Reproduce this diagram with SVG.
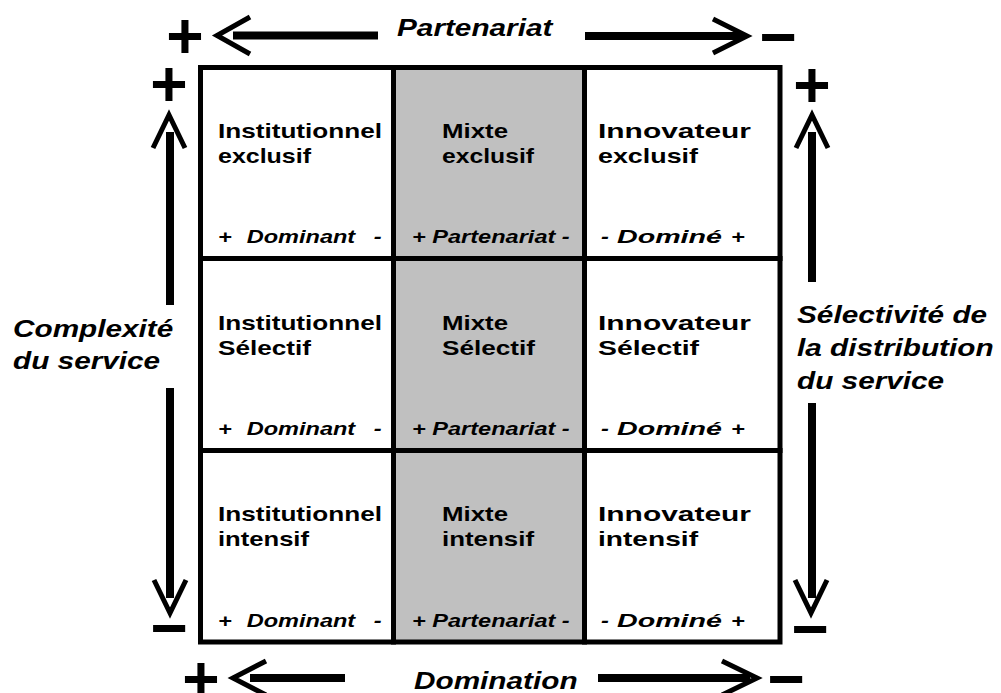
<svg xmlns="http://www.w3.org/2000/svg" width="1001" height="693" viewBox="0 0 1001 693">
<style>
.cell{fill:#ffffff;stroke:#000;stroke-width:5}
.mid{fill:#c0c0c0;stroke:#000;stroke-width:5}
.t{font-family:"Liberation Sans",Arial,sans-serif;font-weight:bold;font-size:21px;fill:#000}
.l{font-family:"Liberation Sans",Arial,sans-serif;font-weight:bold;font-style:italic;font-size:19px;fill:#000}
.ax{font-family:"Liberation Sans",Arial,sans-serif;font-weight:bold;font-style:italic;font-size:24px;fill:#000}
.sg{font-family:"Liberation Sans",Arial,sans-serif;font-weight:bold;font-size:64px;fill:#000;text-anchor:middle}
.sh{stroke:#000;stroke-width:8;fill:none}
.hd{stroke:#000;stroke-width:5;fill:none;stroke-linejoin:miter}
</style>
<rect width="1001" height="693" fill="#fff"/>

<g id="c11"><rect class="cell" x="200.5" y="67.5" width="193" height="191"/>
<text class="t" x="218" y="138" textLength="164" lengthAdjust="spacingAndGlyphs">Institutionnel</text>
<text class="t" x="218" y="163" textLength="93" lengthAdjust="spacingAndGlyphs">exclusif</text>
<text class="l" transform="translate(218,243) scale(1.24,1)">+<tspan dx="12">Dominant</tspan><tspan dx="15">-</tspan></text></g>
<g id="c12"><rect class="mid" x="393.5" y="67.5" width="191" height="191"/>
<text class="t" x="442" y="138" textLength="66" lengthAdjust="spacingAndGlyphs">Mixte</text>
<text class="t" x="442" y="163" textLength="92" lengthAdjust="spacingAndGlyphs">exclusif</text>
<text class="l" transform="translate(412,243) scale(1.24,1)">+ Partenariat -</text></g>
<g id="c13"><rect class="cell" x="584.5" y="67.5" width="195.5" height="191"/>
<text class="t" x="598" y="138" textLength="153" lengthAdjust="spacingAndGlyphs">Innovateur</text>
<text class="t" x="598" y="163" textLength="100" lengthAdjust="spacingAndGlyphs">exclusif</text>
<text class="l" transform="translate(601,243) scale(1.24,1)">-</text>
<text class="l" x="617" y="243" textLength="105" lengthAdjust="spacingAndGlyphs">Dominé</text>
<text class="l" transform="translate(731,243) scale(1.24,1)">+</text></g>

<g id="c21"><rect class="cell" x="200.5" y="258.5" width="193" height="192"/>
<text class="t" x="218" y="329.5" textLength="164" lengthAdjust="spacingAndGlyphs">Institutionnel</text>
<text class="t" x="218" y="354.5" textLength="93" lengthAdjust="spacingAndGlyphs">Sélectif</text>
<text class="l" transform="translate(218,435) scale(1.24,1)">+<tspan dx="12">Dominant</tspan><tspan dx="15">-</tspan></text></g>
<g id="c22"><rect class="mid" x="393.5" y="258.5" width="191" height="192"/>
<text class="t" x="442" y="329.5" textLength="66" lengthAdjust="spacingAndGlyphs">Mixte</text>
<text class="t" x="442" y="354.5" textLength="93" lengthAdjust="spacingAndGlyphs">Sélectif</text>
<text class="l" transform="translate(412,435) scale(1.24,1)">+ Partenariat -</text></g>
<g id="c23"><rect class="cell" x="584.5" y="258.5" width="195.5" height="192"/>
<text class="t" x="598" y="329.5" textLength="153" lengthAdjust="spacingAndGlyphs">Innovateur</text>
<text class="t" x="598" y="354.5" textLength="101" lengthAdjust="spacingAndGlyphs">Sélectif</text>
<text class="l" transform="translate(601,435) scale(1.24,1)">-</text>
<text class="l" x="617" y="435" textLength="105" lengthAdjust="spacingAndGlyphs">Dominé</text>
<text class="l" transform="translate(731,435) scale(1.24,1)">+</text></g>

<g id="c31"><rect class="cell" x="200.5" y="450.5" width="193" height="191.5"/>
<text class="t" x="218" y="521" textLength="164" lengthAdjust="spacingAndGlyphs">Institutionnel</text>
<text class="t" x="218" y="546" textLength="91" lengthAdjust="spacingAndGlyphs">intensif</text>
<text class="l" transform="translate(218,627) scale(1.24,1)">+<tspan dx="12">Dominant</tspan><tspan dx="15">-</tspan></text></g>
<g id="c32"><rect class="mid" x="393.5" y="450.5" width="191" height="191.5"/>
<text class="t" x="442" y="521" textLength="66" lengthAdjust="spacingAndGlyphs">Mixte</text>
<text class="t" x="442" y="546" textLength="92" lengthAdjust="spacingAndGlyphs">intensif</text>
<text class="l" transform="translate(412,627) scale(1.24,1)">+ Partenariat -</text></g>
<g id="c33"><rect class="cell" x="584.5" y="450.5" width="195.5" height="191.5"/>
<text class="t" x="598" y="521" textLength="153" lengthAdjust="spacingAndGlyphs">Innovateur</text>
<text class="t" x="598" y="546" textLength="100" lengthAdjust="spacingAndGlyphs">intensif</text>
<text class="l" transform="translate(601,627) scale(1.24,1)">-</text>
<text class="l" x="617" y="627" textLength="105" lengthAdjust="spacingAndGlyphs">Dominé</text>
<text class="l" transform="translate(731,627) scale(1.24,1)">+</text></g>

<g id="connectors">
<line class="sh" x1="233" y1="35.5" x2="378" y2="35.5"/>
<polyline class="hd" points="250,17 217,35.5 250,54"/>
<line class="sh" x1="585" y1="36" x2="742" y2="36"/>
<polyline class="hd" points="713,19 747,36 713,53"/>
<line class="sh" x1="250" y1="678" x2="345" y2="678"/>
<polyline class="hd" points="266,661 233,678 266,695"/>
<line class="sh" x1="598" y1="678" x2="750" y2="678"/>
<polyline class="hd" points="722,661 757,678 722,695"/>
<line class="sh" x1="170" y1="132" x2="170" y2="305"/>
<line class="sh" x1="170" y1="388" x2="170" y2="598"/>
<polyline class="hd" points="153,148 169,115 185,148"/>
<polyline class="hd" points="154,580 170,613 186,580"/>
<line class="sh" x1="812" y1="132" x2="812" y2="282"/>
<line class="sh" x1="812" y1="403" x2="812" y2="598"/>
<polyline class="hd" points="796,148 812,115 828,148"/>
<polyline class="hd" points="795,580 811,613 827,580"/>
</g>

<g id="axis-top"><text class="ax" transform="translate(397,36) scale(1.24,1)">Partenariat</text>
<text class="sg" x="185" y="58">+</text><text class="sg" x="778" y="58.5">−</text></g>
<g id="axis-bottom"><text class="ax" transform="translate(414,689) scale(1.24,1)">Domination</text>
<text class="sg" x="201" y="701">+</text><text class="sg" x="786" y="701">−</text></g>
<g id="axis-left"><text class="ax" transform="translate(13,337) scale(1.24,1)">Complexité</text>
<text class="ax" transform="translate(13,369) scale(1.24,1)">du service</text>
<text class="sg" x="169" y="106">+</text><text class="sg" x="169" y="649.5">−</text></g>
<g id="axis-right"><text class="ax" transform="translate(797,323) scale(1.24,1)">Sélectivité de</text>
<text class="ax" transform="translate(797,356) scale(1.24,1)">la distribution</text>
<text class="ax" transform="translate(797,389) scale(1.24,1)">du service</text>
<text class="sg" x="812" y="107">+</text><text class="sg" x="810" y="650.5">−</text></g>
</svg>
